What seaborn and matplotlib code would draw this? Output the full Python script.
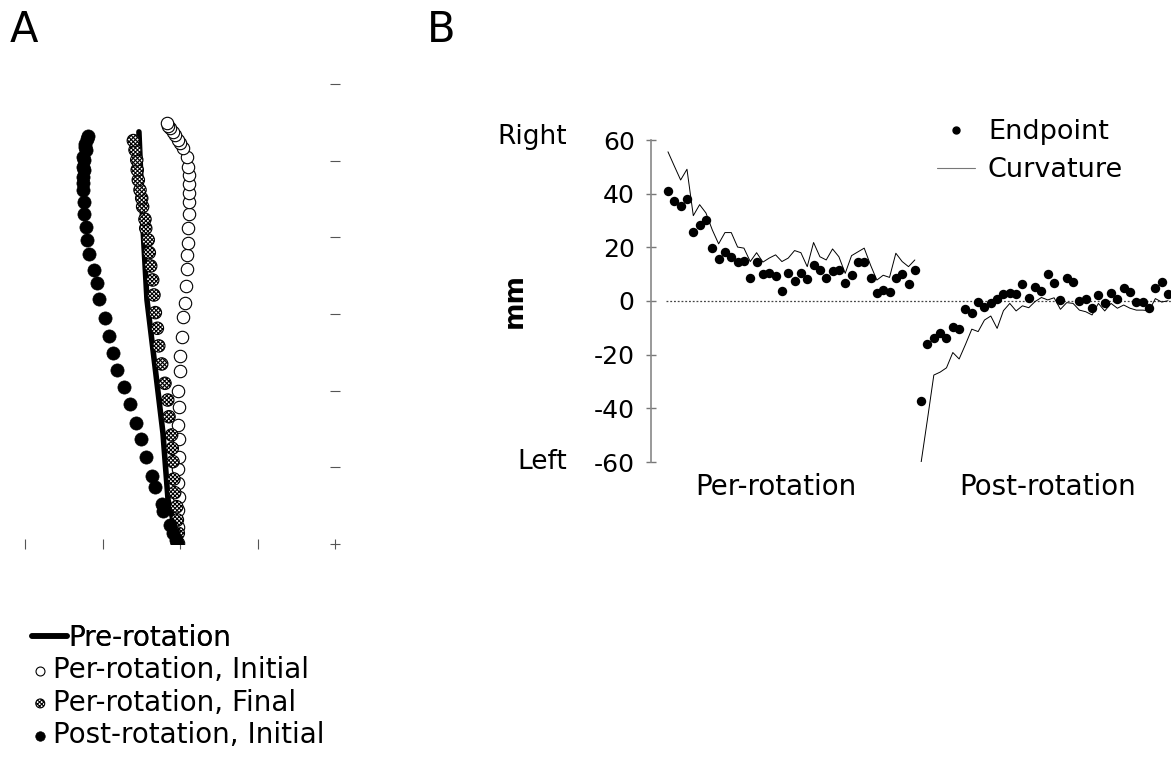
import numpy as np
import pandas as pd
import matplotlib
matplotlib.use("Agg")
import matplotlib.pyplot as plt
from matplotlib.lines import Line2D
import seaborn as sns

# ---- panel A: hand paths (cm), one tick = 5 cm ----
pre_x = [-0.19, -0.45, -0.77, -1.10, -1.61, -2.13, -2.39, -2.65]
pre_y = [0.07, 1.57, 2.87, 7.24, 11.55, 15.92, 20.68, 26.88]

init_x = [-0.11, -0.11, -0.11, -0.06, -0.11, -0.11, -0.06, -0.06, -0.15, -0.08,
          -0.11, 0.00, 0.02, 0.11, 0.21, 0.32, 0.37, 0.43, 0.43, 0.50,
          0.50, 0.58, 0.58, 0.58, 0.60, 0.60, 0.54, 0.43, 0.21, 0.03,
          -0.11, -0.32, -0.43, -0.65, -0.75, -0.86]
init_y = [0.05, 1.13, 2.22, 3.09, 4.00, 4.89, 5.69, 6.83, 7.76, 8.96,
          10.00, 11.29, 12.28, 13.52, 14.79, 15.72, 16.83, 17.94, 18.85, 19.65,
          20.63, 21.53, 22.29, 22.88, 23.48, 24.07, 24.61, 25.26, 25.81, 26.16,
          26.35, 26.68, 26.90, 27.14, 27.27, 27.44]

final_x = [-0.17, -0.11, -0.17, -0.21, -0.34, -0.39, -0.45, -0.50, -0.54, -0.71,
           -0.79, -0.97, -1.18, -1.37, -1.46, -1.59, -1.68, -1.76, -1.89, -1.98,
           -2.05, -2.21, -2.26, -2.41, -2.47, -2.58, -2.69, -2.76, -2.79, -2.90,
           -3.01]
final_y = [0.05, 0.70, 1.57, 2.43, 3.35, 4.24, 5.37, 6.24, 7.11, 8.30,
           9.39, 10.48, 11.74, 12.92, 14.07, 15.09, 16.24, 17.22, 18.13, 19.00,
           19.83, 20.59, 21.18, 22.00, 22.55, 23.09, 23.74, 24.40, 25.05, 25.70,
           26.31]

post_x = [-0.21, -0.26, -0.43, -0.65, -1.08, -1.18, -1.59, -1.81, -2.19, -2.54,
          -2.84, -3.23, -3.61, -4.05, -4.30, -4.58, -4.84, -5.21, -5.37, -5.53,
          -5.85, -5.98, -6.08, -6.19, -6.19, -6.24, -6.23, -6.24, -6.19, -6.24,
          -6.19, -6.24, -6.06, -6.13, -6.13, -5.98, -5.94]
post_y = [-0.07, 0.26, 0.70, 1.24, 2.17, 2.61, 3.70, 4.46, 5.69, 6.83,
          7.87, 9.13, 10.22, 11.35, 12.48, 13.59, 14.72, 15.96, 17.01, 17.87,
          18.90, 19.83, 20.70, 21.53, 22.33, 23.09, 23.55, 23.96, 24.40, 24.61,
          25.05, 25.26, 25.68, 25.92, 26.09, 26.40, 26.62]

# ---- panel B: per trial deviation (mm) ----
per_endpoint = [41, 37.4, 35.4, 38, 25.7, 28.3, 30.2, 19.8, 15.7, 18.3,
                16.4, 14.5, 15.0, 8.6, 14.5, 10.0, 10.4, 9.5, 3.9, 10.4,
                7.5, 10.4, 8.2, 13.4, 11.5, 8.6, 11.2, 11.5, 6.7, 9.7,
                14.6, 14.6, 8.6, 3.0, 4.1, 3.4, 8.6, 10.0, 6.3, 11.6]
per_curvature = [55.6, 50.3, 45.1, 49.1, 31.8, 35.9, 32.8, 26.5, 21.3, 25.5,
                 25.5, 20.1, 19.7, 14.7, 18.0, 14.5, 16.0, 17.2, 14.7, 16.0,
                 18.8, 18.0, 12.8, 21.8, 16.5, 15.3, 19.4, 16.5, 10.3, 16.9,
                 18.3, 19.7, 13.4, 7.8, 9.6, 8.8, 17.8, 14.7, 12.8, 15.3]
post_endpoint = [-37.2, -16.0, -13.9, -12.1, -13.9, -9.6, -10.6, -3.1, -4.6, -0.5,
                 -2.1, -0.9, 0.7, 2.5, 2.9, 2.5, 6.2, 1.2, 5.3, 3.7,
                 10.0, 6.8, 0.3, 8.5, 7.2, -0.1, 0.6, -2.5, 2.2, -0.7,
                 3.1, 0.9, 4.7, 3.2, -0.4, -0.4, -2.7, 5.0, 7.1, 2.5]
post_curvature = [-60, -44, -27.6, -26.5, -24.9, -19.2, -21.6, -16.2, -10.5, -11.4,
                  -7.1, -5.6, -10.2, -3.6, -0.9, -3.7, -1.8, -2.5, -0.2, 1.3,
                  0.4, 1.2, -3.1, -0.6, -0.9, -3.4, -4.0, -5.2, -0.9, -3.7,
                  -0.9, -2.7, -1.5, -2.7, -3.4, -3.4, -3.6, 0.9, -0.4, 0.1]

sns.set_style("white")
plt.rcParams["font.family"] = ["DejaVu Sans"]
plt.rcParams["hatch.linewidth"] = 0.8
plt.rcParams["axes.unicode_minus"] = False
plt.rcParams["text.color"] = "black"
plt.rcParams["axes.labelcolor"] = "black"
plt.rcParams["ytick.labelcolor"] = "black"
plt.rcParams["xtick.labelcolor"] = "black"

fig = plt.figure(figsize=(11.71, 7.6), dpi=100)
W, H = 1171, 760

# ---------------- panel A ----------------
axA = fig.add_axes([25 / W, 216 / H, 310 / W, 460 / H])
sns.scatterplot(x=init_x, y=init_y, ax=axA, s=80, color="white", edgecolor="black",
                linewidth=0.8, zorder=2, label="Per-rotation, Initial")
sns.lineplot(x=pre_x, y=pre_y, ax=axA, sort=False, estimator=None, color="black",
             lw=4, zorder=3, label="Pre-rotation")
sns.scatterplot(x=final_x, y=final_y, ax=axA, s=80, color="white", edgecolor="black",
                hatch="xxxxxxxx", linewidth=0.8, zorder=4, label="Per-rotation, Final")
sns.scatterplot(x=post_x, y=post_y, ax=axA, s=90, color="black", edgecolor="black",
                linewidth=0.5, zorder=5, label="Post-rotation, Initial")
axA.set_xlim(-10, 10)
axA.set_ylim(0, 30)
axA.set_xticks([-10, -5, 0, 5, 10])
axA.set_yticks([0, 5, 10, 15, 20, 25, 30])
axA.tick_params(axis="both", direction="inout", length=7, width=0.8, color="#555555",
                bottom=True, right=True, left=False, top=False,
                labelbottom=False, labelright=False, labelleft=False)
for sp in axA.spines.values():
    sp.set_visible(False)
axA.set_xlabel("")
axA.set_ylabel("")
handles, labels = axA.get_legend_handles_labels()
axA.get_legend().remove()
hd = dict(zip(labels, handles))

leg1 = fig.legend([hd["Pre-rotation"]], ["Pre-rotation"], loc="upper left",
                  bbox_to_anchor=(32 / W, 1 - 624 / H), frameon=False, fontsize=20,
                  handlelength=1.25, handletextpad=0.05, borderpad=0, borderaxespad=0)
fig.add_artist(leg1)
fig.legend([hd["Per-rotation, Initial"], hd["Per-rotation, Final"], hd["Post-rotation, Initial"]],
           ["Per-rotation, Initial", "Per-rotation, Final", "Post-rotation, Initial"],
           loc="upper left", bbox_to_anchor=(34 / W, 1 - 656 / H), frameon=False,
           fontsize=20, handlelength=0.45, handletextpad=0.25, labelspacing=0.17,
           borderpad=0, borderaxespad=0, markerscale=0.72, scatterpoints=1)

# ---------------- panel B ----------------
df = pd.DataFrame({
    "trial": np.r_[np.arange(1, 41), np.arange(41, 81)],
    "endpoint": per_endpoint + post_endpoint,
    "curvature": per_curvature + post_curvature,
    "phase": ["per"] * 40 + ["post"] * 40,
})

axB = fig.add_axes([650.7 / W, 298 / H, 520.3 / W, 322 / H])
axB.plot([0.7, 80.5], [0, 0], ls=(0, (1.5, 1.5)), color="#444444", lw=0.9, zorder=1)
sns.lineplot(data=df, x="trial", y="curvature", units="phase", estimator=None,
             color="black", lw=0.7, ax=axB, zorder=2)
sns.scatterplot(data=df, x="trial", y="endpoint", color="black", edgecolor="black",
                s=46, linewidth=0, ax=axB, zorder=3)
axB.set_xlim(-1.73, 80.47)
axB.set_ylim(-60, 60)
axB.set_yticks([-60, -40, -20, 0, 20, 40, 60])
axB.set_xticks([])
for side in ["top", "right", "bottom"]:
    axB.spines[side].set_visible(False)
axB.spines["left"].set_color("#888888")
axB.spines["left"].set_linewidth(1.2)
axB.tick_params(axis="y", direction="inout", length=7, width=1, color="#777777",
                labelsize=18, pad=8, left=True)
axB.set_xlabel("")
axB.set_ylabel("mm", fontsize=19, fontweight="bold")
axB.yaxis.set_label_coords(-0.236, 0.5)

tr = axB.get_yaxis_transform()
axB.text(-0.161, 61, "Right", transform=tr, ha="right", va="center", fontsize=19)
axB.text(-0.161, -60, "Left", transform=tr, ha="right", va="center", fontsize=19)
axB.text(18, -69.5, "Per-rotation", ha="center", va="center", fontsize=20, clip_on=False)
axB.text(61, -69.5, "Post-rotation", ha="center", va="center", fontsize=20, clip_on=False)

legB = [Line2D([], [], marker="o", ls="none", color="black", markersize=5),
        Line2D([], [], color="#777777", lw=0.8)]
axB.legend(legB, ["Endpoint", "Curvature"], loc="upper left",
           bbox_to_anchor=(937 / W, 1 - 119 / H), bbox_transform=fig.transFigure,
           frameon=False, fontsize=19.5, handlelength=1.4, handletextpad=0.48,
           labelspacing=0.45, borderpad=0, borderaxespad=0)

fig.text(10 / W, 1 - 30 / H, "A", fontsize=30, ha="left", va="center")
fig.text(427 / W, 1 - 30 / H, "B", fontsize=30, ha="left", va="center")

fig.savefig("out.png", dpi=100)
